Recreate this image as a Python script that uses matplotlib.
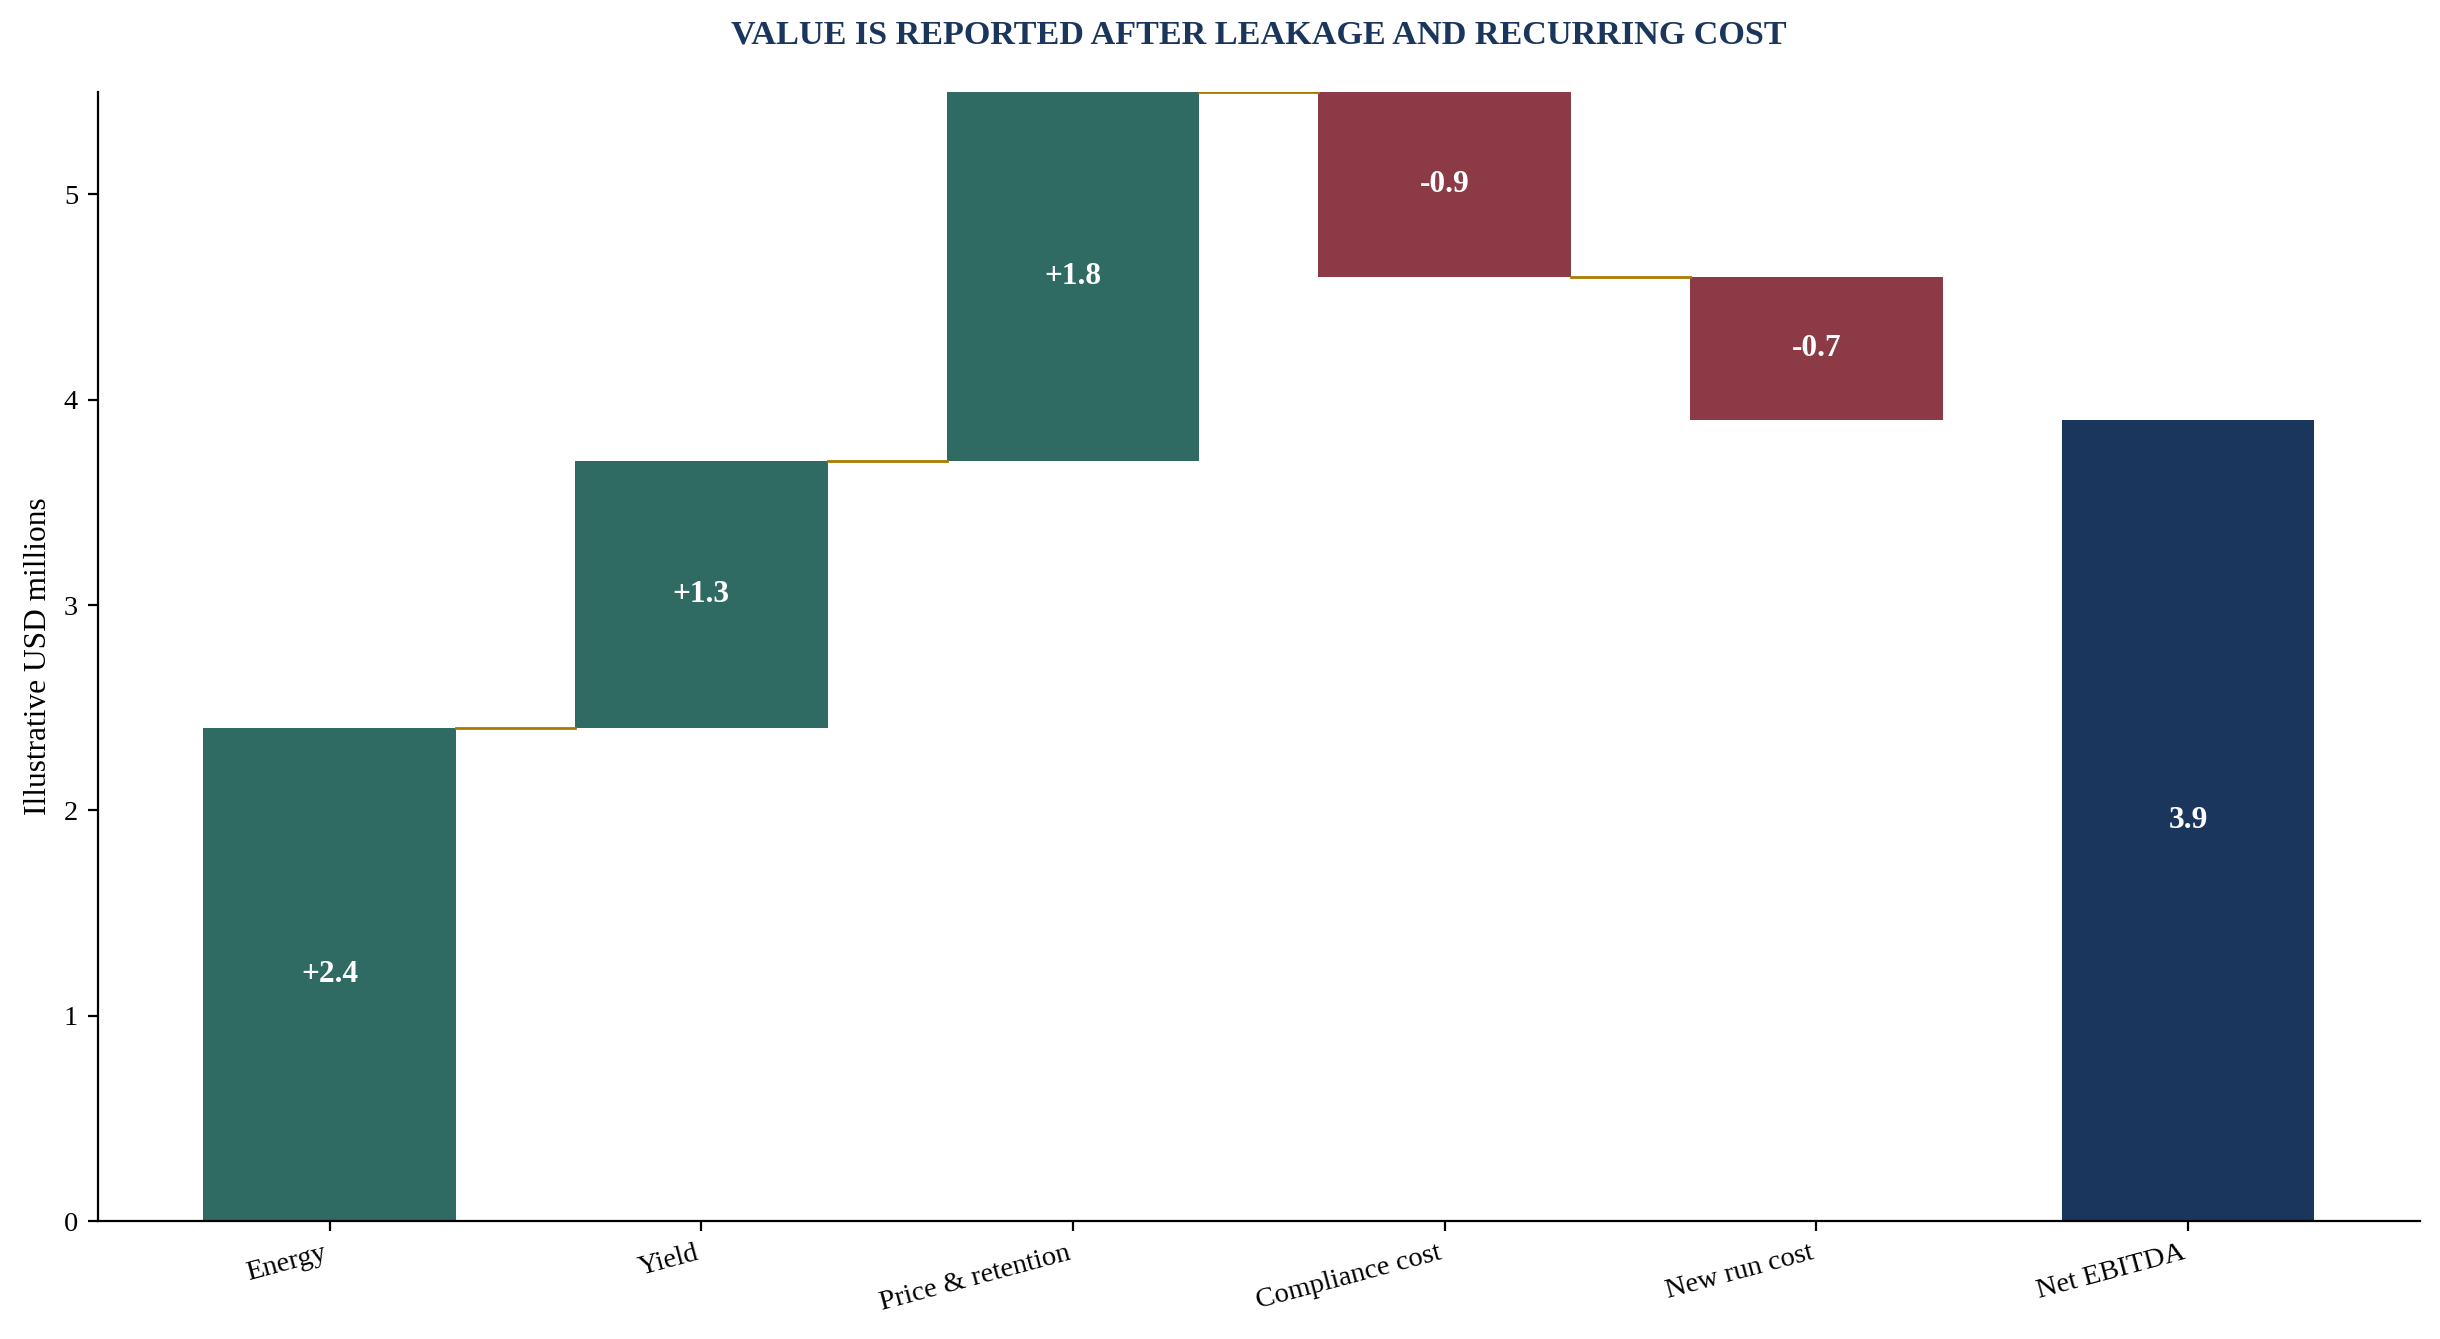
import matplotlib
matplotlib.use("Agg")
import matplotlib.pyplot as plt

plt.rcParams['font.family'] = ['Liberation Serif', 'DejaVu Serif']

# waterfall data
steps = ['Energy', 'Yield', 'Price & retention', 'Compliance cost', 'New run cost']
deltas = [2.4, 1.3, 1.8, -0.9, -0.7]
total_label = 'Net EBITDA'
total_value = 3.9

GREEN = '#2f6b62'
RED = '#8b3a46'
NAVY = '#1a365d'
GOLD = '#a97a00'
W = 0.68

fig = plt.figure(figsize=(12.2, 6.695), dpi=200)
ax = fig.add_axes([0.040, 0.088, 0.9518, 0.8435])

running = 0.0
levels = []
for i, d in enumerate(deltas):
    bottom = running if d >= 0 else running + d
    ax.bar(i, abs(d), bottom=bottom, width=W, color=GREEN if d >= 0 else RED)
    ax.text(i, bottom + abs(d) / 2, '%+.1f' % d, ha='center', va='center',
            color='white', fontsize=11.3, fontweight='bold')
    running += d
    levels.append(running)

n = len(deltas)
ax.bar(n, total_value, width=W, color=NAVY)
ax.text(n, total_value / 2, '%.1f' % total_value, ha='center', va='center',
        color='white', fontsize=11.3, fontweight='bold')

# connectors between steps
for i in range(n - 1):
    ax.plot([i + W / 2, i + 1 - W / 2], [levels[i], levels[i]], color=GOLD, lw=1.0)

ax.set_xticks(range(n + 1))
ax.set_xticklabels(steps + [total_label], rotation=15, ha='right', fontsize=10.25)
ax.tick_params(axis='y', labelsize=10.25)
ax.set_ylim(0, max(levels))
ax.set_ylabel('Illustrative USD millions', fontsize=11.3)
ax.spines['top'].set_visible(False)
ax.spines['right'].set_visible(False)

ax.set_title('VALUE IS REPORTED AFTER LEAKAGE AND RECURRING COST',
             fontsize=12.3, fontweight='bold', color=NAVY, pad=17.5)

fig.savefig('out.png', dpi=200)
